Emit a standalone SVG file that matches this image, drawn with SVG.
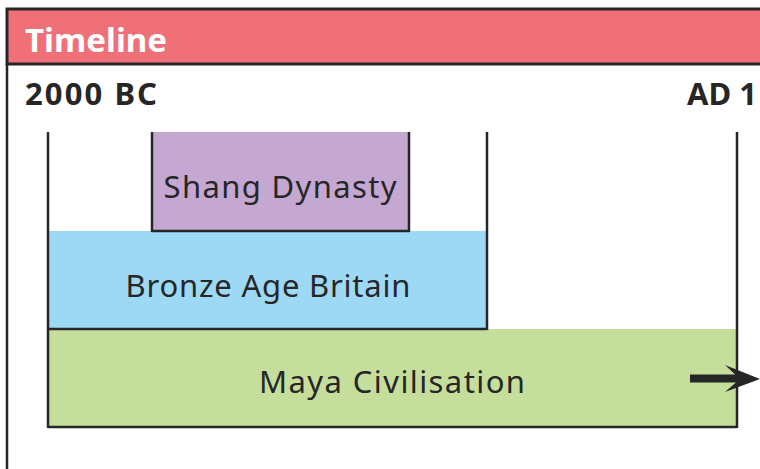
<svg xmlns="http://www.w3.org/2000/svg" width="760" height="469" viewBox="0 0 760 469">
<style>
.lbl{font-family:"Noto Sans","Open Sans",sans-serif;font-size:31px;fill:#262626;text-anchor:middle}
.yr{font-family:"Noto Sans","Open Sans",sans-serif;font-size:31px;font-weight:bold;fill:#262626}
.ln{stroke:#262626;stroke-width:2.5;fill:none}
</style>
<rect x="0" y="0" width="760" height="469" fill="#ffffff"/>
<g id="frame">
<rect x="7" y="9" width="760" height="55" fill="#F07078" stroke="#262626" stroke-width="3"/>
<line x1="7" y1="64" x2="7" y2="469" class="ln" stroke-width="3"/>
<text x="25" y="52" font-family="Noto Sans, Open Sans, sans-serif" font-size="33" font-weight="bold" fill="#ffffff" textLength="142">Timeline</text>
<text x="25" y="105" class="yr" textLength="132">2000 BC</text>
<text x="757" y="105" class="yr" text-anchor="end">AD 1</text>
</g>
<g id="maya">
<rect x="48" y="329" width="689" height="98" fill="#C5DE9C"/>
<text x="392" y="393" class="lbl" textLength="266">Maya Civilisation</text>
</g>
<g id="bronze">
<rect x="48" y="231" width="439" height="98" fill="#9DD9F5"/>
<text x="268" y="297" class="lbl" textLength="285">Bronze Age Britain</text>
</g>
<g id="shang">
<rect x="152" y="132" width="257" height="99" fill="#C4A8D2"/>
<text x="280" y="198" class="lbl" textLength="233">Shang Dynasty</text>
</g>
<g id="connectors">
<line x1="48" y1="132" x2="48" y2="428" class="ln"/>
<line x1="737" y1="132" x2="737" y2="428" class="ln"/>
<line x1="487" y1="132" x2="487" y2="330" class="ln"/>
<line x1="152" y1="132" x2="152" y2="232" class="ln"/>
<line x1="409" y1="132" x2="409" y2="232" class="ln"/>
<line x1="152" y1="231" x2="409" y2="231" class="ln"/>
<line x1="48" y1="329" x2="487" y2="329" class="ln"/>
<line x1="48" y1="427" x2="737" y2="427" class="ln"/>
<line x1="690" y1="378.5" x2="742" y2="378.5" stroke="#262626" stroke-width="8"/>
<polygon points="725,365 760,379 725,392 740,379" fill="#262626"/>
</g>
</svg>
